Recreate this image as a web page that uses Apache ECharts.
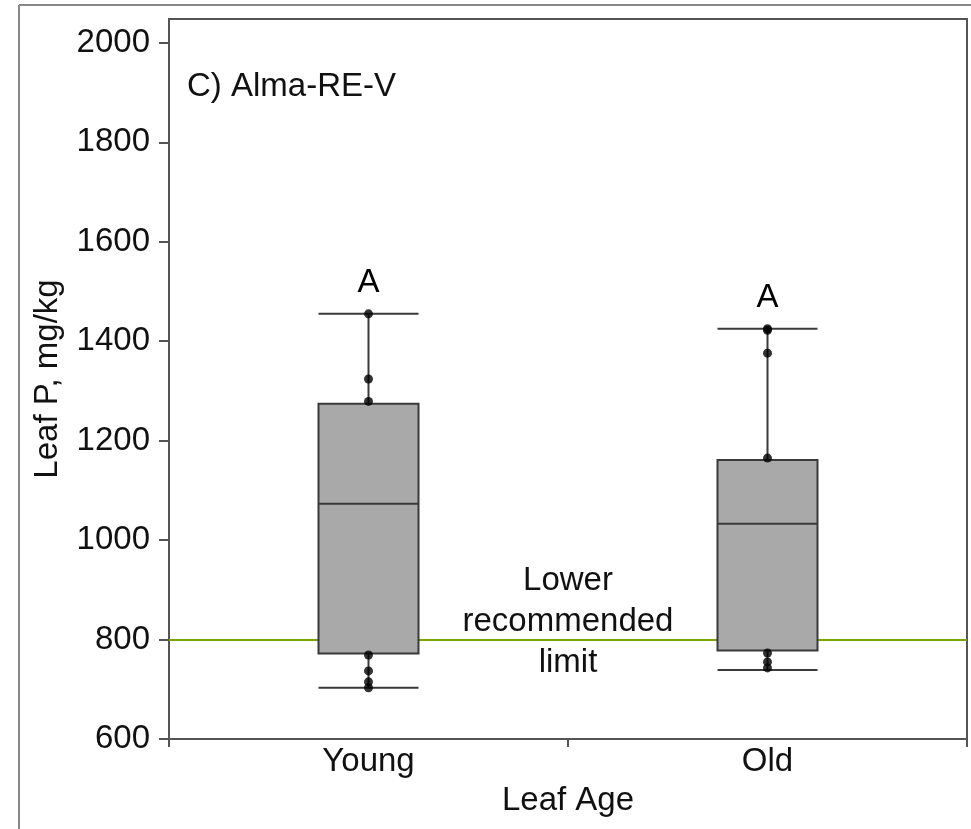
<!DOCTYPE html>
<html>
<head>
<meta charset="utf-8">
<script src="https://cdn.jsdelivr.net/npm/echarts@6/dist/echarts.min.js"></script>
<style>html,body{margin:0;padding:0;background:#fff;}#c{width:971px;height:829px;}</style>
</head>
<body>
<div id="c"></div>
<script>
const categories = ['Young', 'Old'];
// [low whisker, Q1, median, Q3, high whisker]
const boxYoung = [703, 772, 1073, 1274, 1455];
const boxOld = [739, 778, 1033, 1161, 1425];
const pointsYoung = [1455, 1324, 1279, 769, 737, 715, 703];
const pointsOld = [1425, 1422, 1376, 1165, 773, 755, 743];
const groupLetters = ['A', 'A'];
const limitValue = 800;
const yTicks = [600, 800, 1000, 1200, 1400, 1600, 1800, 2000];

const FONT = "'Liberation Sans', Arial, sans-serif";
const FS = 33;
const chart = echarts.init(document.getElementById('c'));

const scatterData = [];
pointsYoung.forEach(v => scatterData.push([0, v]));
pointsOld.forEach(v => scatterData.push([1, v]));

chart.setOption({
  animation: false,
  backgroundColor: '#fff',
  grid: { left: 169, right: 4, top: 19, bottom: 90, show: true, borderColor: '#555', borderWidth: 2, backgroundColor: 'transparent' },
  xAxis: {
    type: 'category',
    data: categories,
    boundaryGap: true,
    name: 'Leaf Age',
    nameLocation: 'middle',
    nameGap: 45,
    nameTextStyle: { fontFamily: FONT, fontSize: FS, color: '#111' },
    axisLine: { lineStyle: { color: '#555', width: 2 } },
    axisTick: { show: true, length: 8, lineStyle: { color: '#555', width: 2 } },
    axisLabel: { fontFamily: FONT, fontSize: FS, color: '#111', margin: 6 },
    splitLine: { show: false }
  },
  yAxis: {
    type: 'value',
    min: 600, max: 2048, interval: 200,
    name: 'Leaf P, mg/kg',
    nameLocation: 'middle',
    nameGap: 105,
    nameTextStyle: { fontFamily: FONT, fontSize: FS, color: '#111' },
    axisLine: { show: true, lineStyle: { color: '#555', width: 2 } },
    axisTick: { show: true, length: 10, customValues: yTicks, lineStyle: { color: '#555', width: 2 } },
    axisLabel: { fontFamily: FONT, fontSize: FS, color: '#111', margin: 19, customValues: yTicks, formatter: v => String(v) },
    splitLine: { show: false }
  },
  series: [
    {
      type: 'boxplot',
      data: [boxYoung, boxOld],
      boxWidth: [100, 100],
      itemStyle: { color: '#a9a9a9', borderColor: '#3a3a3a', borderWidth: 2 },
      z: 2
    },
    {
      type: 'scatter',
      data: scatterData,
      symbol: 'circle',
      symbolSize: 9,
      itemStyle: { color: '#000' },
      z: 5,
      markLine: {
        silent: true,
        symbol: 'none',
        label: { show: false },
        lineStyle: { color: '#7aa600', width: 2, type: 'solid' },
        data: [{ yAxis: limitValue }],
        z: 1
      }
    },
    {
      type: 'scatter',
      data: [[0, boxYoung[4]], [1, boxOld[4]]],
      symbolSize: 0,
      silent: true,
      itemStyle: { color: '#000', opacity: 1 },
      label: {
        show: true, position: 'top', distance: 14,
        formatter: p => groupLetters[p.dataIndex],
        fontFamily: FONT, fontSize: FS, color: '#000', opacity: 1, textBorderWidth: 0
      }
    }
  ],
  graphic: [
    { type: 'line', shape: { x1: 19, y1: 5, x2: 971, y2: 5 }, style: { stroke: '#888', lineWidth: 2 } },
    { type: 'line', shape: { x1: 19, y1: 5, x2: 19, y2: 829 }, style: { stroke: '#888', lineWidth: 2 } },
    { type: 'text', x: 187, y: 87, style: { text: 'C) Alma-RE-V', font: FS + "px " + FONT, fill: '#111', textVerticalAlign: 'middle' } },
    { type: 'text', x: 568, y: 622, style: { text: 'Lower\nrecommended\nlimit', font: FS + "px " + FONT, fill: '#111', textAlign: 'center', textVerticalAlign: 'middle', lineHeight: 41 } }
  ]
});
</script>
</body>
</html>
